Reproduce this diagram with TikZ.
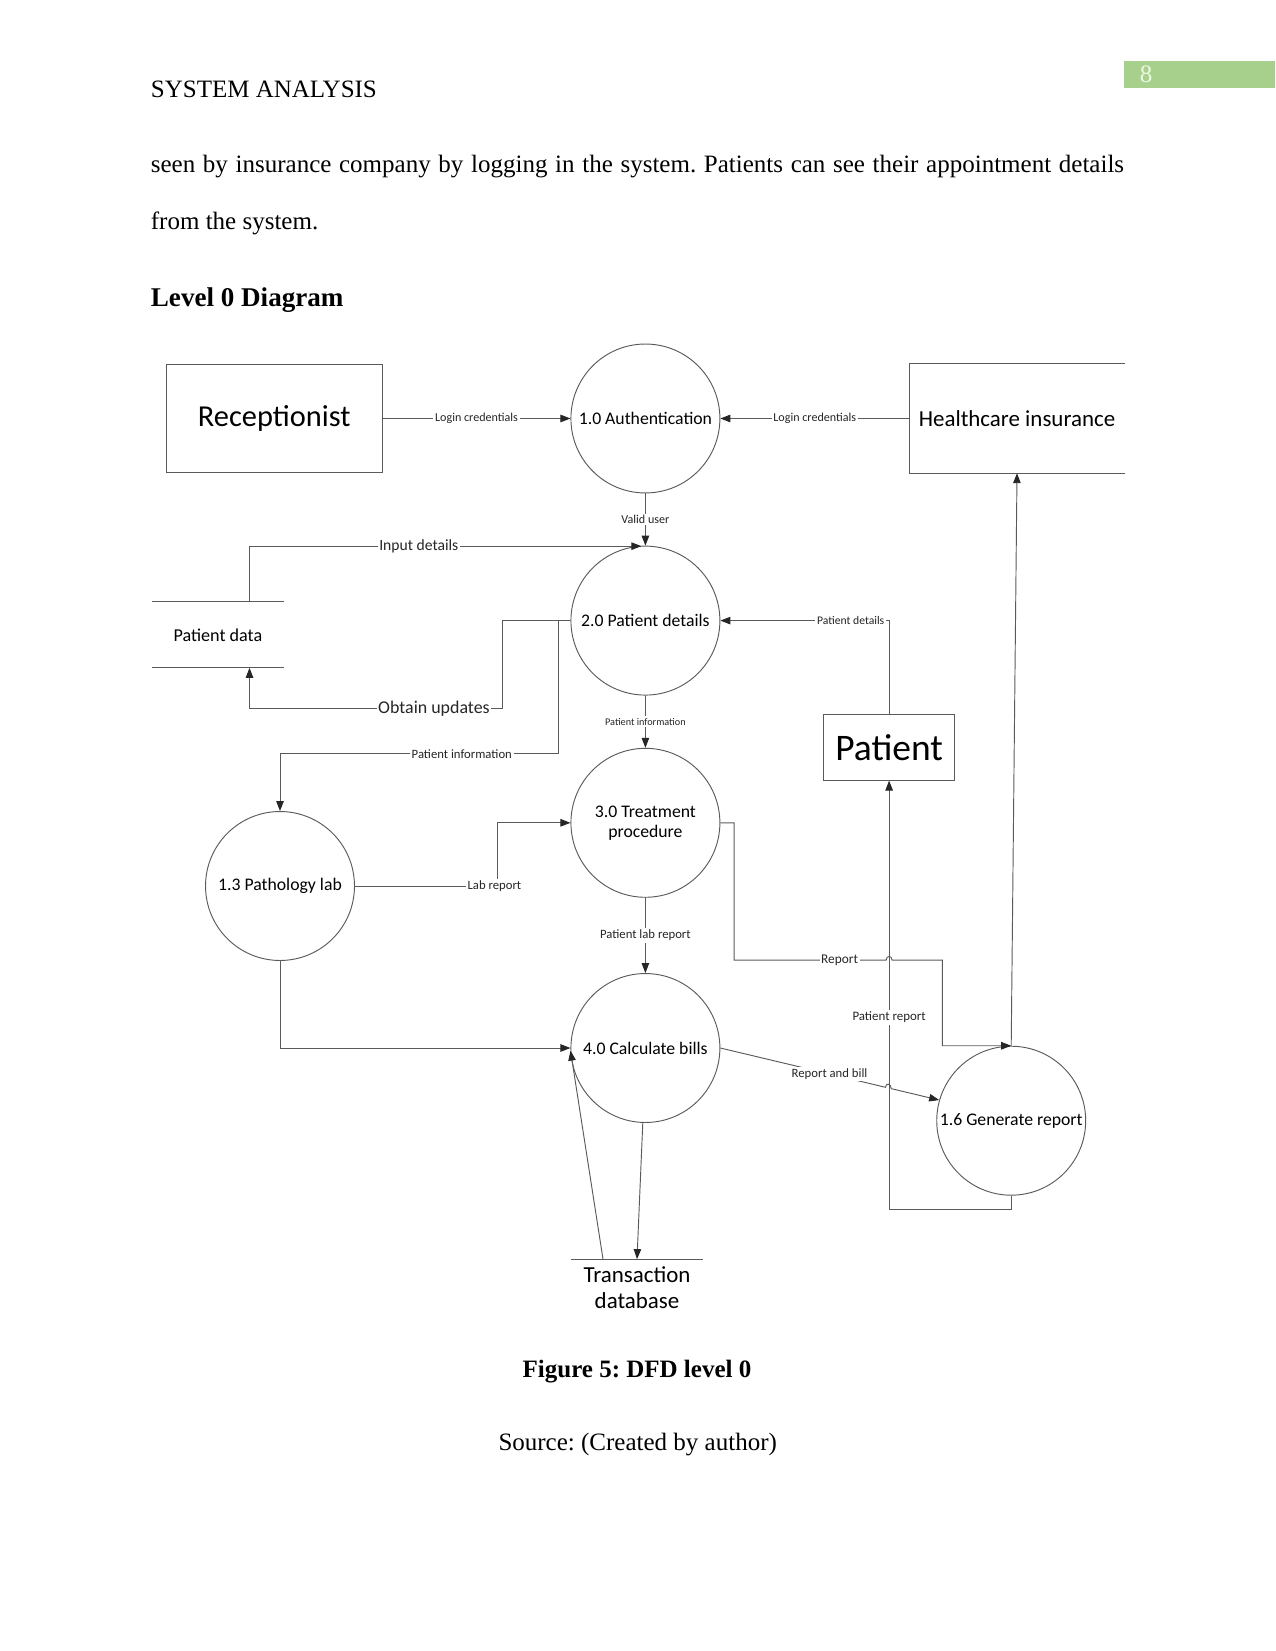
\documentclass[tikz,border=0pt]{standalone}
\usepackage{fontspec}
\setmainfont{Liberation Serif}
\newfontfamily\dfdfont{Carlito}
\usepackage{xcolor}
\definecolor{pagegreen}{RGB}{168, 208, 141}
\definecolor{numpale}{RGB}{236, 246, 226}
\definecolor{linegray}{RGB}{90, 90, 90}
\usetikzlibrary{calc, positioning, arrows.meta}
\frenchspacing

\begin{document}
\begin{tikzpicture}[x=0.48pt, y=-0.48pt, font=\fontsize{12}{14}\selectfont,
  process/.style={circle, draw=linegray, line width=0.45pt, minimum size=71.5pt, inner sep=0pt, align=center, font=\dfdfont\fontsize{8.5}{9.6}\selectfont},
  entity/.style={rectangle, draw=linegray, line width=0.45pt, inner sep=0pt},
  store/.style={rectangle, inner sep=0pt, align=center},
  flow/.style={draw=linegray, line width=0.45pt, -{Triangle[length=4.8pt, width=3.6pt, color=black!85]}},
  lbl/.style={fill=white, inner sep=0.8pt, text=black!85, font=\dfdfont\fontsize{#1}{#1}\selectfont},
  lbl/.default=5.8
]
  \useasboundingbox (0,0) rectangle (1275,1651);

  % page header and text
  \node[anchor=base west, inner sep=0pt] (head) at (150.5,98) {SYSTEM ANALYSIS};
  \fill[pagegreen] (1124,61) rectangle (1275,88);
  \node[anchor=base, inner sep=0pt, text=numpale] (pnum) at (1146,82.7) {8};
  \node[anchor=base west, inner sep=0pt] (line1) at (150.5,173) {\makebox[467.1pt][s]{seen by insurance company by logging in the system. Patients can see their appointment details}};
  \node[anchor=base west, inner sep=0pt] (line2) at (150.5,230) {from the system.};
  \node[anchor=base west, inner sep=0pt, font=\bfseries\fontsize{13}{15}\selectfont] (title) at (150.5,306.5) {Level 0 Diagram};

  % processes
  \node[process] (auth) at (645.4,418.5) {1.0 Authentication};
  \node[process] (pdet) at (645.4,620.6) {2.0 Patient details};
  \node[process] (treat) at (645.4,822.8) {3.0 Treatment\\procedure};
  \node[process] (calc) at (645.4,1048) {4.0 Calculate bills};
  \node[process] (path) at (280,886) {1.3 Pathology lab};
  \node[process] (gen) at (1011.2,1120.7) {1.6 Generate report};

  % external entities
  \node[entity, minimum width=103.6pt, minimum height=52.1pt, font=\dfdfont\fontsize{14.6}{17}\selectfont] (recep) at (274.2,418.5) {Receptionist};
  \node[store, minimum width=103.1pt, minimum height=52.1pt, font=\dfdfont\fontsize{11}{13}\selectfont] (insur) at (1017,418.5) {Healthcare insurance};
  \draw[linegray, line width=0.45pt] (insur.north east) -- (insur.north west) -- (insur.south west) -- (insur.south east);
  \node[entity, minimum width=63.2pt, minimum height=31.3pt, font=\dfdfont\fontsize{18}{20}\selectfont] (pat) at (889.1,747.5) {Patient};

  % data stores
  \node[store, minimum width=62.6pt, minimum height=31.3pt, font=\dfdfont\fontsize{8.7}{10}\selectfont] (pdata) at (217.9,634.8) {Patient data};
  \draw[linegray, line width=0.45pt] (pdata.north west) -- (pdata.north east) (pdata.south west) -- (pdata.south east);
  \node[store, anchor=north, minimum width=62.6pt, inner ysep=3.5pt, font=\dfdfont\fontsize{11}{12.6}\selectfont] (tdb) at (637,1259.1) {Transaction\\database};
  \draw[linegray, line width=0.45pt] (tdb.north west) -- (tdb.north east);

  % flows
  \draw[flow] (recep) -- node[lbl]{Login credentials} (auth);
  \draw[flow] (insur.west) -- node[lbl]{Login credentials} (auth);
  \draw[flow] (auth) -- node[lbl]{Valid user} (pdet);
  \draw[flow] ($(pdata.north)+(31.6,0)$) |- node[lbl=7.5, pos=0.716]{Input details} ($(pdet.north)+(-4,0.5)$);
  \coordinate (upd) at (502.2,708.5);
  \draw[flow] (pdet.west) -| (upd) -| node[lbl=8.6, pos=0.135]{Obtain updates} ($(pdata.south)+(31.6,0)$);
  \coordinate (pinf) at (558,753.8);
  \draw[flow] (pdet.west) -| (pinf) -| node[lbl=6.1, pos=0.173]{Patient information} (path.north);
  \draw[flow] (pdet) -- node[lbl=4.9]{Patient information} (treat);
  \draw[flow] (pat.north) |- node[lbl=5.6, pos=0.614]{Patient details} (pdet.east);
  \draw[flow] (path.east) -| node[lbl=6.1, pos=0.489]{Lab report} ($(treat.west)+(-72.9,0)$) -- (treat.west);
  \draw[flow] (path.south) |- (calc.west);
  \draw[flow] (treat) -- node[lbl=6.1]{Patient lab report} (calc);
  \coordinate (hopA) at (889.1,960.2);
  \draw[flow] (treat.east) -- ++(13.7,0) |- node[lbl=6.4, pos=0.847]{Report} ($(hopA)+(-3,0)$) .. controls +(0,-5) and +(0,-5) .. ($(hopA)+(3,0)$) -- ++(50.2,0) |- (gen.north);
  \draw[flow] (calc.east) -- node[lbl=6.1, pos=0.661]{Report and bill} ($(calc.east)!0.755!(gen.164)$) .. controls +(0,-5) and +(0,-5) .. ($(calc.east)!0.781!(gen.164)$) -- (gen.164);
  \draw[flow] (gen.south) -- ++(0,14) -| node[lbl=6.2, pos=0.724]{Patient report} (pat.south);
  \draw[flow] (gen.north) -- (insur.south);
  \draw[flow] (calc.268) -- (tdb.north);
  \draw[flow] ($(tdb.north)+(-34,0)$) -- (calc.182);

  % caption
  \node[anchor=base, font=\bfseries\fontsize{12}{14}\selectfont] (cap) at (637,1377.3) {Figure 5: DFD level 0};
  \node[anchor=base] (src) at (637.7,1450.7) {Source: (Created by author)};
\end{tikzpicture}
\end{document}
